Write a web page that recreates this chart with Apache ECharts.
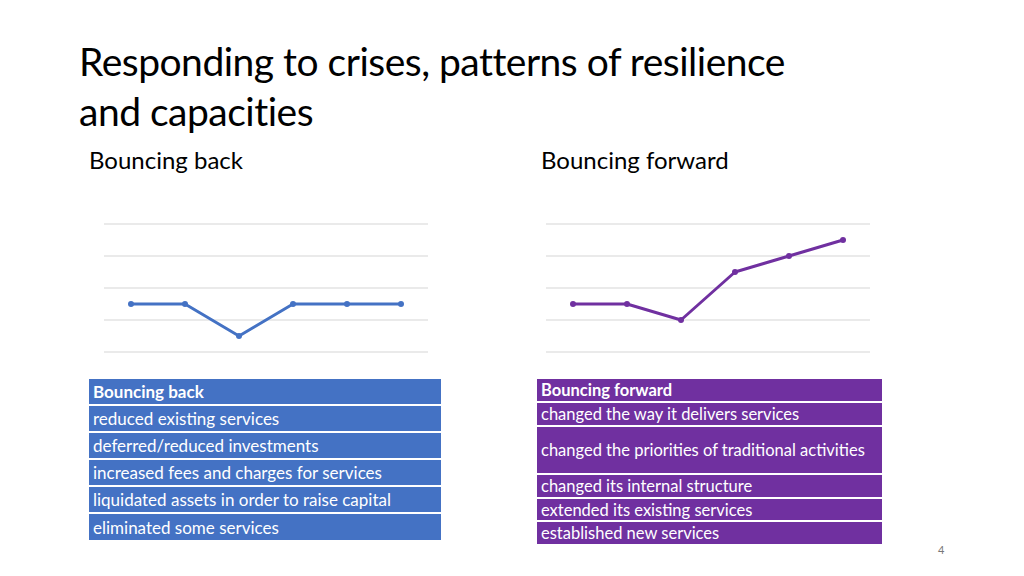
<!DOCTYPE html>
<html><head><meta charset="utf-8">
<script src="https://cdn.jsdelivr.net/npm/echarts@6/dist/echarts.min.js"></script>
<style>
body{margin:0;width:1024px;height:576px;background:#fff;font-family:Lato,"Open Sans",sans-serif;position:relative;overflow:hidden}
.abs{position:absolute}
h1{position:absolute;left:79px;top:36px;margin:0;font-weight:normal;font-size:39px;line-height:50px;color:#000;letter-spacing:-0.5px}
.sub{font-size:24px;color:#000;top:145px}
.tbl{position:absolute;color:#fff;font-size:17px}
.tbl div{box-sizing:border-box;padding-left:4px;border-bottom:2px solid #fff;display:flex;align-items:center}
.tbl div.h{font-weight:bold}
</style></head><body>
<h1>Responding to crises, patterns of resilience<br>and capacities</h1>
<div class="abs sub" style="left:89px">Bouncing back</div>
<div class="abs sub" style="left:541px">Bouncing forward</div>
<div id="c1" class="abs" style="left:80px;top:200px;width:370px;height:170px"></div>
<div id="c2" class="abs" style="left:522px;top:200px;width:370px;height:170px"></div>
<div id="t1" class="tbl" style="left:89px;top:379px;width:352px"></div>
<div id="t2" class="tbl" style="left:537px;top:379px;width:345px;font-size:16.5px"></div>
<div class="abs" style="left:938px;top:543px;font-size:11px;color:#777">4</div>
<script>
const cats = ['1','2','3','4','5','6'];
const backValues = [1.5, 1.5, 0.5, 1.5, 1.5, 1.5];
const forwardValues = [1.5, 1.5, 1.0, 2.5, 3.0, 3.5];
const backRows = ['Bouncing back','reduced existing services','deferred/reduced investments','increased fees and charges for services','liquidated assets in order to raise capital','eliminated some services'];
const forwardRows = ['Bouncing forward','changed the way it delivers services','changed the priorities of traditional activities','changed its internal structure','extended its existing services','established new services'];

function lineChart(id, values, color){
  const c = echarts.init(document.getElementById(id));
  c.setOption({
    animation:false,
    grid:{left:24,right:22,top:24,bottom:18},
    xAxis:{type:'category',data:cats,show:false},
    yAxis:{type:'value',min:0,max:4,interval:1,axisLabel:{show:false},
      splitLine:{lineStyle:{color:'#e3e3e3',width:1.5}}},
    series:[{type:'line',data:values,symbol:'circle',symbolSize:6,
      lineStyle:{color:color,width:3},itemStyle:{color:color}}]
  });
}
lineChart('c1', backValues, '#4472C4');
lineChart('c2', forwardValues, '#7030A0');

function table(id, rows, heights, bg){
  const el = document.getElementById(id);
  rows.forEach((r,i)=>{
    const d = document.createElement('div');
    d.textContent = r;
    d.style.height = heights[i]+'px';
    d.style.background = bg;
    if(i===0) d.className='h';
    el.appendChild(d);
  });
}
table('t1', backRows, [27,27,27,27,27,28], '#4472C4');
table('t2', forwardRows, [24,24,48,24,23,24], '#7030A0');
</script>
</body></html>
